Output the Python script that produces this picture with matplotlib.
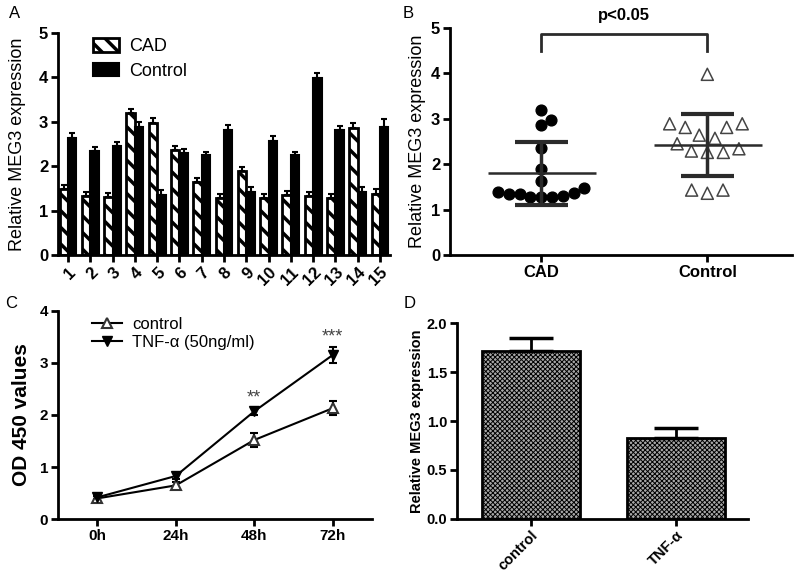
import numpy as np
import matplotlib.pyplot as plt
from matplotlib.lines import Line2D

plt.rcParams['font.family'] = ['Liberation Sans', 'DejaVu Sans']
plt.rcParams['hatch.linewidth'] = 2.5

# panel A / B data
samples = [str(i) for i in range(1, 16)]
cad_vals = [1.48, 1.34, 1.31, 3.19, 2.98, 2.36, 1.64, 1.28, 1.89, 1.28, 1.36, 1.34, 1.28, 2.87, 1.38]
cad_err = [0.10, 0.09, 0.09, 0.10, 0.11, 0.09, 0.09, 0.09, 0.10, 0.09, 0.09, 0.08, 0.09, 0.10, 0.11]
ctrl_vals = [2.64, 2.34, 2.45, 2.89, 1.36, 2.29, 2.26, 2.81, 1.43, 2.57, 2.26, 3.98, 2.81, 1.43, 2.89]
ctrl_err = [0.10, 0.09, 0.09, 0.11, 0.10, 0.09, 0.06, 0.11, 0.10, 0.11, 0.07, 0.12, 0.10, 0.11, 0.17]

# panel C data
times = ['0h', '24h', '48h', '72h']
od_ctrl = [0.40, 0.65, 1.52, 2.13]
od_ctrl_err = [0.05, 0.07, 0.13, 0.14]
od_tnf = [0.42, 0.83, 2.07, 3.15]
od_tnf_err = [0.04, 0.05, 0.07, 0.15]
sig_marks = ['', '', '**', '***']

# panel D data
d_groups = ['control', 'TNF-α']
d_vals = [1.72, 0.83]
d_err = [0.13, 0.095]

fig = plt.figure(figsize=(8, 5.75), dpi=100)


def style_axes(ax):
    for s in ['top', 'right']:
        ax.spines[s].set_visible(False)
    for s in ['left', 'bottom']:
        ax.spines[s].set_linewidth(2)
    ax.tick_params(width=2, length=5, direction='out', pad=2)


def bold_ticks(ax, size):
    for lbl in ax.get_xticklabels() + ax.get_yticklabels():
        lbl.set_fontweight('bold')
        lbl.set_fontsize(size)


def swarm_x(ax, center, vals, d):
    # simple beeswarm in pixel space
    trans = ax.transData
    pts = trans.transform(np.column_stack([np.full(len(vals), center), vals]))
    placed = []
    offs = np.zeros(len(vals))
    for i in np.argsort(vals, kind='stable'):
        y = pts[i, 1]
        cands = [0.0]
        for px, py in placed:
            dy = y - py
            if abs(dy) < d:
                dx = np.sqrt(d * d - dy * dy)
                cands += [px + dx, px - dx]
        cands.sort(key=abs)
        for c in cands:
            if all((c - px) ** 2 + (y - py) ** 2 >= d * d - 1e-6 for px, py in placed):
                break
        placed.append((c, y))
        offs[i] = c
    back = trans.inverted().transform(np.column_stack([pts[:, 0] + offs, pts[:, 1]]))
    return back[:, 0]


# ---------------- A ----------------
axA = fig.add_axes([0.0725, 0.5565, 0.415, 0.386])
x = np.arange(len(samples))
w = 0.38
axA.bar(x - w / 2, cad_vals, w, color='white', edgecolor='black', hatch='\\\\', lw=2, label='CAD')
axA.bar(x + w / 2, ctrl_vals, w, color='black', edgecolor='black', lw=1.5, label='Control')
axA.errorbar(x - w / 2, cad_vals, yerr=[np.zeros(len(x)), cad_err], fmt='none', ecolor='black',
             elinewidth=1.5, capsize=2, capthick=1.5)
axA.errorbar(x + w / 2, ctrl_vals, yerr=[np.zeros(len(x)), ctrl_err], fmt='none', ecolor='black',
             elinewidth=1.5, capsize=2, capthick=1.5)
axA.set_xlim(-0.45, 14.45)
axA.set_ylim(0, 5)
axA.set_xticks(x)
axA.set_xticklabels(samples, rotation=45, ha='right', rotation_mode='anchor')
axA.set_yticks(range(6))
style_axes(axA)
bold_ticks(axA, 12)
axA.set_ylabel('Relative MEG3 expression', fontsize=13)
axA.yaxis.set_label_coords(-0.096, 0.5)
axA.legend(loc='upper left', bbox_to_anchor=(0.055, 1.05), frameon=False, fontsize=13,
           handlelength=1.45, handleheight=0.8, labelspacing=0.4, handletextpad=0.6)

# ---------------- B ----------------
axB = fig.add_axes([0.5625, 0.5565, 0.4275, 0.3948])
axB.set_xlim(-0.55, 1.51)
axB.set_ylim(0, 5)
cad_x = swarm_x(axB, 0, cad_vals, 11)
ctrl_x = swarm_x(axB, 1, ctrl_vals, 16)
axB.scatter(cad_x, cad_vals, s=60, color='black', zorder=3)
axB.scatter(ctrl_x, ctrl_vals, s=75, marker='^', facecolors='none', edgecolors='#444444',
            linewidths=1.1, zorder=3)
for pos, vals in [(0, cad_vals), (1, ctrl_vals)]:
    m = np.mean(vals)
    sd = np.std(vals, ddof=1)
    axB.hlines(m, pos - 0.32, pos + 0.33, color='#2b2b2b', lw=1.8, zorder=4)
    axB.vlines(pos, m - sd, m + sd, color='#2b2b2b', lw=2.5, zorder=4)
    axB.hlines([m - sd, m + sd], pos - 0.16, pos + 0.16, color='#2b2b2b', lw=3, zorder=4)
axB.plot([0, 0, 1, 1], [4.5, 4.87, 4.87, 4.5], color='#2b2b2b', lw=2, clip_on=False)
axB.text(0.5, 5.12, 'p<0.05', ha='center', va='bottom', fontsize=12, fontweight='bold')
axB.set_xticks([0, 1])
axB.set_xticklabels(['CAD', 'Control'])
axB.set_yticks(range(6))
style_axes(axB)
bold_ticks(axB, 12)
axB.set_ylabel('Relative MEG3 expression', fontsize=13)
axB.yaxis.set_label_coords(-0.07, 0.5)

# ---------------- C ----------------
axC = fig.add_axes([0.0725, 0.0969, 0.3925, 0.3628])
tx = np.arange(len(times))
axC.errorbar(tx, od_ctrl, yerr=od_ctrl_err, fmt='-^', color='black', lw=1.5, ms=7,
             mfc='white', mec='#333333', mew=1.5, capsize=3, capthick=1.5, elinewidth=1.5)
axC.errorbar(tx, od_tnf, yerr=od_tnf_err, fmt='-v', color='black', lw=1.5, ms=7,
             capsize=3, capthick=1.5, elinewidth=1.5)
for i, mk in enumerate(sig_marks):
    if mk:
        axC.text(tx[i], od_tnf[i] + od_tnf_err[i] + 0.03, mk, ha='center', va='bottom',
                 fontsize=13, color='#444444')
axC.set_xlim(-0.5, 3.5)
axC.set_ylim(0, 4)
axC.set_xticks(tx)
axC.set_xticklabels(times)
axC.set_yticks(range(5))
style_axes(axC)
bold_ticks(axC, 11)
axC.set_ylabel('OD 450 values', fontsize=15, fontweight='bold')
axC.yaxis.set_label_coords(-0.086, 0.5)
handles = [Line2D([], [], color='black', lw=1.5, marker='^', ms=7, mfc='white', mec='#333333', mew=1.5),
           Line2D([], [], color='black', lw=1.5, marker='v', ms=7)]
axC.legend(handles, ['control', 'TNF-α (50ng/ml)'], loc='upper left', bbox_to_anchor=(0.06, 1.04),
           frameon=False, fontsize=12, handlelength=1.8, labelspacing=0.15, handletextpad=0.6)

# ---------------- D ----------------
axD = fig.add_axes([0.571, 0.0979, 0.3645, 0.3398])
dx = np.arange(len(d_groups))
with plt.rc_context({'hatch.linewidth': 0.7}):
    axD.bar(dx, d_vals, 0.676, color='#a8a8a8', edgecolor='black', lw=2, hatch='xxxxxxx')
axD.errorbar(dx, d_vals, yerr=[np.zeros(len(dx)), d_err], fmt='none', ecolor='black',
             elinewidth=2, capsize=16, capthick=2.5)
axD.set_xlim(-0.51, 1.5)
axD.set_ylim(0, 2.0)
axD.set_xticks(dx)
axD.set_xticklabels(d_groups, rotation=45, ha='right', rotation_mode='anchor')
axD.set_yticks([0, 0.5, 1.0, 1.5, 2.0])
axD.set_yticklabels(['0.0', '0.5', '1.0', '1.5', '2.0'])
style_axes(axD)
bold_ticks(axD, 10.5)
axD.set_ylabel('Relative MEG3 expression', fontsize=10.5, fontweight='bold')
axD.yaxis.set_label_coords(-0.112, 0.5)

# panel letters
fig.text(0.011, 0.99, 'A', fontsize=12, va='top')
fig.text(0.503, 0.99, 'B', fontsize=12, va='top')
fig.text(0.006, 0.485, 'C', fontsize=12, va='top')
fig.text(0.505, 0.485, 'D', fontsize=12, va='top')

fig.savefig('out.png', dpi=100)
